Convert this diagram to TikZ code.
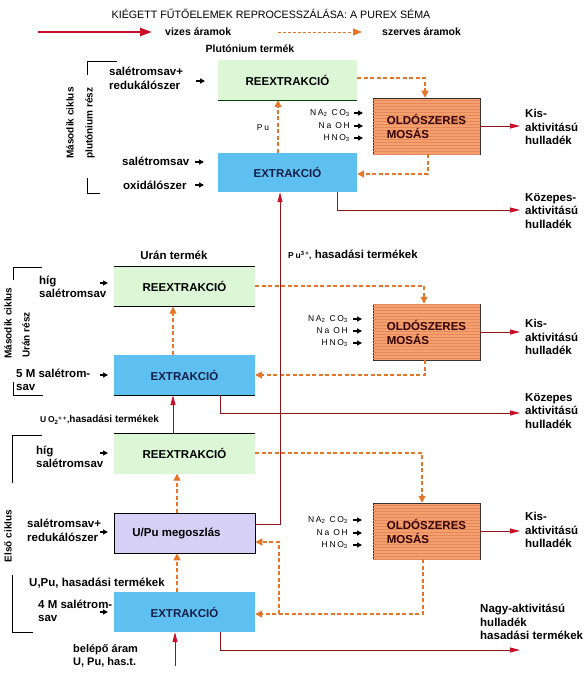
\documentclass[tikz,border=0pt]{standalone}
\usepackage{fontspec}
\setmainfont{Liberation Sans}
\newfontfamily\chemfont[LetterSpace=20]{Liberation Sans}
\usetikzlibrary{arrows.meta,patterns}
\definecolor{wred}{RGB}{140,22,32}
\definecolor{hred}{RGB}{200,16,40}
\definecolor{org}{RGB}{228,118,40}
\definecolor{gfill}{RGB}{220,247,214}
\definecolor{bfill}{RGB}{94,192,240}
\definecolor{pfill}{RGB}{214,208,246}
\definecolor{ofill}{RGB}{246,160,110}
\definecolor{oline}{RGB}{226,136,92}
\definecolor{navy}{RGB}{20,30,70}
\begin{document}
\begin{tikzpicture}[x=1pt,y=-1pt,
  box/.style={minimum width=141pt,minimum height=40pt,inner sep=0pt,
     font=\bfseries\fontsize{11.5}{13}\selectfont},
  gbox/.style={box,fill=gfill},
  bbox/.style={box,fill=bfill,text=navy},
  pbox/.style={box,fill=pfill,draw=black,line width=0.6pt},
  mbox/.style={minimum width=107pt,minimum height=56pt,inner sep=0pt,fill=ofill,
     postaction={pattern=horizontal lines,pattern color=oline},draw=black!80,line width=0.5pt,
     align=left,font=\bfseries\fontsize{11.5}{14}\selectfont,text=black!80!red},
  lbl/.style={font=\bfseries\fontsize{11.5}{13.5}\selectfont,align=left,inner sep=0pt,anchor=west},
  chem/.style={font=\chemfont\fontsize{8.5}{9}\selectfont,inner sep=0pt,anchor=east},
  rot/.style={font=\bfseries\fontsize{10}{12}\selectfont,rotate=90,inner sep=0pt},
  wflow/.style={draw=wred,line width=0.9pt,-{Triangle[length=10pt,width=5pt,color=hred]}},
  oflow/.style={draw=org,line width=1.3pt,dash pattern=on 4pt off 2.5pt,-{Triangle[length=7pt,width=7pt,color=org]}},
  inlet/.style={draw=black,line width=1.2pt,-{Triangle[length=5pt,width=5pt]}},
  brk/.style={draw=black,line width=0.9pt},
]
\useasboundingbox (0,0) rectangle (588,674);
\fill[white] (0,0) rectangle (588,674);

% title and legend
\node[font=\fontsize{10.7}{13}\selectfont,inner sep=0pt] (title) at (271,14) {KIÉGETT FŰTŐELEMEK REPROCESSZÁLÁSA: A PUREX SÉMA};
\coordinate (lr1) at (38,32); \coordinate (lr2) at (152,32);
\draw[draw=hred,line width=2.2pt,-{Triangle[length=12pt,width=8pt]}] (lr1) -- (lr2);
\node[lbl,font=\bfseries\fontsize{10.5}{12}\selectfont] (lw) at (165,32) {vizes áramok};
\coordinate (lo1) at (278,32); \coordinate (lo2) at (362,32);
\draw[draw=org,line width=0.8pt,dash pattern=on 3pt off 2pt,-{Triangle[length=9pt,width=7pt]}] (lo1) -- (lo2);
\node[lbl,font=\bfseries\fontsize{10.5}{12}\selectfont] (ls) at (382,32) {szerves áramok};

% ---------- Pu part ----------
\node[lbl,anchor=center,font=\bfseries\fontsize{10.5}{12}\selectfont] (plt) at (250,49) {Plutónium termék};
\node[gbox,minimum width=139pt] (pre) at (287.5,80) {REEXTRAKCIÓ};
\draw[green!25!black,line width=0.8pt] (pre.south west) -- (pre.south east);
\node[bbox,minimum width=139pt,minimum height=39pt] (pex) at (287.5,172.5) {EXTRAKCIÓ};
\node[mbox] (m1) at (426.5,126) {OLDÓSZERES\\MOSÁS};

\coordinate (c1) at (425,78);
\draw[oflow] (pre.east |- c1) -- (c1) -- (c1 |- m1.north);
\coordinate (c2) at (428,174);
\draw[oflow] (c2 |- m1.south) -- (c2) -- (c2 -| pex.east);
\coordinate (c3) at (278,0);
\draw[oflow] (c3 |- pex.north) -- (c3 |- pre.south);
\node[chem,anchor=center] (pul) at (263,128) {Pu};

\node[chem] (ch1) at (350,113) {NA\textsubscript{2} CO\textsubscript{3}};
\node[chem] (ch2) at (350,126) {Na OH};
\node[chem] (ch3) at (350,138) {HNO\textsubscript{3}};
\draw[inlet] (354,113) -- (363,113);
\draw[inlet] (354,126) -- (363,126);
\draw[inlet] (354,138) -- (363,138);

\coordinate (k1) at (520,0);
\draw[wflow] (m1.east) -- (m1.east -| k1);
\node[lbl] (k1t) at (525,127) {Kis-\\aktivitású\\hulladék};
\coordinate (r6) at (337,210); \coordinate (r6e) at (520,210);
\draw[wflow] (r6 |- pex.south) -- (r6) -- (r6e);
\node[lbl] (kz1) at (525,211) {Közepes-\\aktivitású\\hulladék};

\node[lbl] (pl1) at (109,78.5) {salétromsav+\\redukálószer};
\node[lbl] (pl2) at (122,161) {salétromsav};
\node[lbl] (pl3) at (123,185) {oxidálószer};
\draw[inlet] (196,81) -- (205,81);
\draw[inlet] (195,162) -- (204,162);
\draw[inlet] (195,185) -- (204,185);
\draw[brk] (117,61) -- (87,61) -- (87,75);
\draw[brk] (87,178) -- (87,193) -- (100,193);
\node[rot] (pr1) at (70,123) {Második ciklus};
\node[rot] (pr2) at (90,123) {plutónium rész};

% ---------- U part ----------
\node[lbl,anchor=center] (urt) at (174,255) {Urán termék};
\node[lbl] (put) at (288,255) {{\chemfont\fontsize{8.5}{9}\selectfont Pu\textsuperscript{3+},} hasadási termékek};
\node[gbox] (ure) at (184.5,286.5) {REEXTRAKCIÓ};
\draw[black,line width=0.7pt] (ure.north west) -- (ure.north east);
\draw[black,line width=0.7pt] (ure.south west) -- (ure.south east);
\node[bbox] (uex) at (184.5,375) {EXTRAKCIÓ};
\draw[black,line width=0.7pt] (uex.south west) -- (uex.south east);
\node[mbox] (m2) at (426.5,332) {OLDÓSZERES\\MOSÁS};

\coordinate (c4) at (424,286);
\draw[oflow] (ure.east |- c4) -- (c4) -- (c4 |- m2.north);
\coordinate (c5) at (425,375);
\draw[oflow] (c5 |- m2.south) -- (c5) -- (c5 -| uex.east);
\coordinate (c6) at (173,0);
\draw[oflow] (c6 |- uex.north) -- (c6 |- ure.south);

\node[chem] (ch4) at (348,319) {NA\textsubscript{2} CO\textsubscript{3}};
\node[chem] (ch5) at (348,331) {Na OH};
\node[chem] (ch6) at (348,343) {HNO\textsubscript{3}};
\draw[inlet] (353,319) -- (362,319);
\draw[inlet] (353,331) -- (362,331);
\draw[inlet] (353,343) -- (362,343);

\draw[wflow] (m2.east) -- (m2.east -| k1);
\node[lbl] (k2t) at (525,337) {Kis-\\aktivitású\\hulladék};
\coordinate (r5) at (220,413); \coordinate (r5e) at (520,413);
\draw[wflow] (r5 |- uex.south) -- (r5) -- (r5e);
\node[lbl] (kz2) at (525,411) {Közepes\\aktivitású\\hulladék};

\node[lbl] (ul1) at (39,287) {híg\\salétromsav};
\node[lbl] (ul2) at (16,380) {5 M salétrom-\\sav};
\draw[inlet] (100,283) -- (108,283);
\draw[inlet] (100,375) -- (108,375);
\draw[brk] (42,267) -- (13,267) -- (13,280);
\draw[brk] (13,382) -- (13,395) -- (43,395);
\node[rot] (ur1) at (8,323) {Második ciklus};
\node[rot] (ur2) at (26,335) {Urán rész};

\node[lbl,font=\bfseries\fontsize{10}{11}\selectfont] (uot) at (40,420) {{\chemfont\fontsize{8.5}{9}\selectfont UO\textsubscript{2}\textsuperscript{++},}hasadási termékek};

% ---------- first cycle ----------
\node[gbox] (fre) at (184.5,453.5) {REEXTRAKCIÓ};
\draw[black,line width=0.7pt] (fre.north west) -- (fre.north east);
\node[pbox] (upu) at (184.5,533) {\hspace*{-16pt}U/Pu megoszlás};
\node[bbox] (fex) at (184.5,612) {EXTRAKCIÓ};
\node[mbox] (m3) at (426.5,531) {OLDÓSZERES\\MOSÁS};

\coordinate (c7) at (422,453);
\draw[oflow] (fre.east |- c7) -- (c7) -- (c7 |- m3.north);
\coordinate (c8) at (423,614);
\draw[oflow] (c8 |- m3.south) -- (c8) -- (c8 -| fex.east);
\coordinate (c9) at (279,614); \coordinate (c10) at (279,542);
\draw[oflow] (c9) -- (c10) -- (c10 -| upu.east);
\coordinate (c11) at (177,0);
\draw[oflow] (c11 |- upu.north) -- (c11 |- fre.south);
\draw[oflow] (c11 |- fex.north) -- (c11 |- upu.south);

\coordinate (r1) at (280,524);
\draw[wflow] (upu.east |- r1) -- (r1) -- (r1 |- pex.south);
\coordinate (r2) at (173,0);
\draw[wflow] (r2 |- fre.north) -- (r2 |- uex.south);
\coordinate (r3) at (175,666);
\draw[wflow] (r3) -- (r3 |- fex.south);
\coordinate (r4) at (220,650); \coordinate (r4e) at (520,650);
\draw[wflow] (r4 |- fex.south) -- (r4) -- (r4e);

\node[chem] (ch7) at (348,520) {NA\textsubscript{2} CO\textsubscript{3}};
\node[chem] (ch8) at (348,533) {Na OH};
\node[chem] (ch9) at (348,545) {HNO\textsubscript{3}};
\draw[inlet] (353,520) -- (362,520);
\draw[inlet] (353,533) -- (362,533);
\draw[inlet] (353,545) -- (362,545);

\draw[wflow] (m3.east) -- (m3.east -| k1);
\node[lbl] (k3t) at (525,530) {Kis-\\aktivitású\\hulladék};
\node[lbl] (nt) at (480,622) {Nagy-aktivitású\\hulladék\\hasadási termékek};

\node[lbl] (fl1) at (36,457) {híg\\salétromsav};
\node[lbl] (fl2) at (27,530.5) {salétromsav+\\redukálószer};
\node[lbl] (fl3) at (29,583) {U,Pu, hasadási termékek};
\node[lbl] (fl4) at (38,611) {4 M salétrom-\\sav};
\node[lbl,font=\bfseries\fontsize{11}{12.5}\selectfont] (fl5) at (73,656) {belépő áram\\U, Pu, has.t.};
\draw[inlet] (100,453) -- (108,453);
\draw[inlet] (100,532) -- (108,532);
\draw[inlet] (100,612) -- (108,612);
\draw[brk] (42,435) -- (12,435) -- (12,483);
\draw[brk] (12,575) -- (12,632) -- (33,632);
\node[rot] (fr1) at (8,536) {Első ciklus};
\end{tikzpicture}
\end{document}
